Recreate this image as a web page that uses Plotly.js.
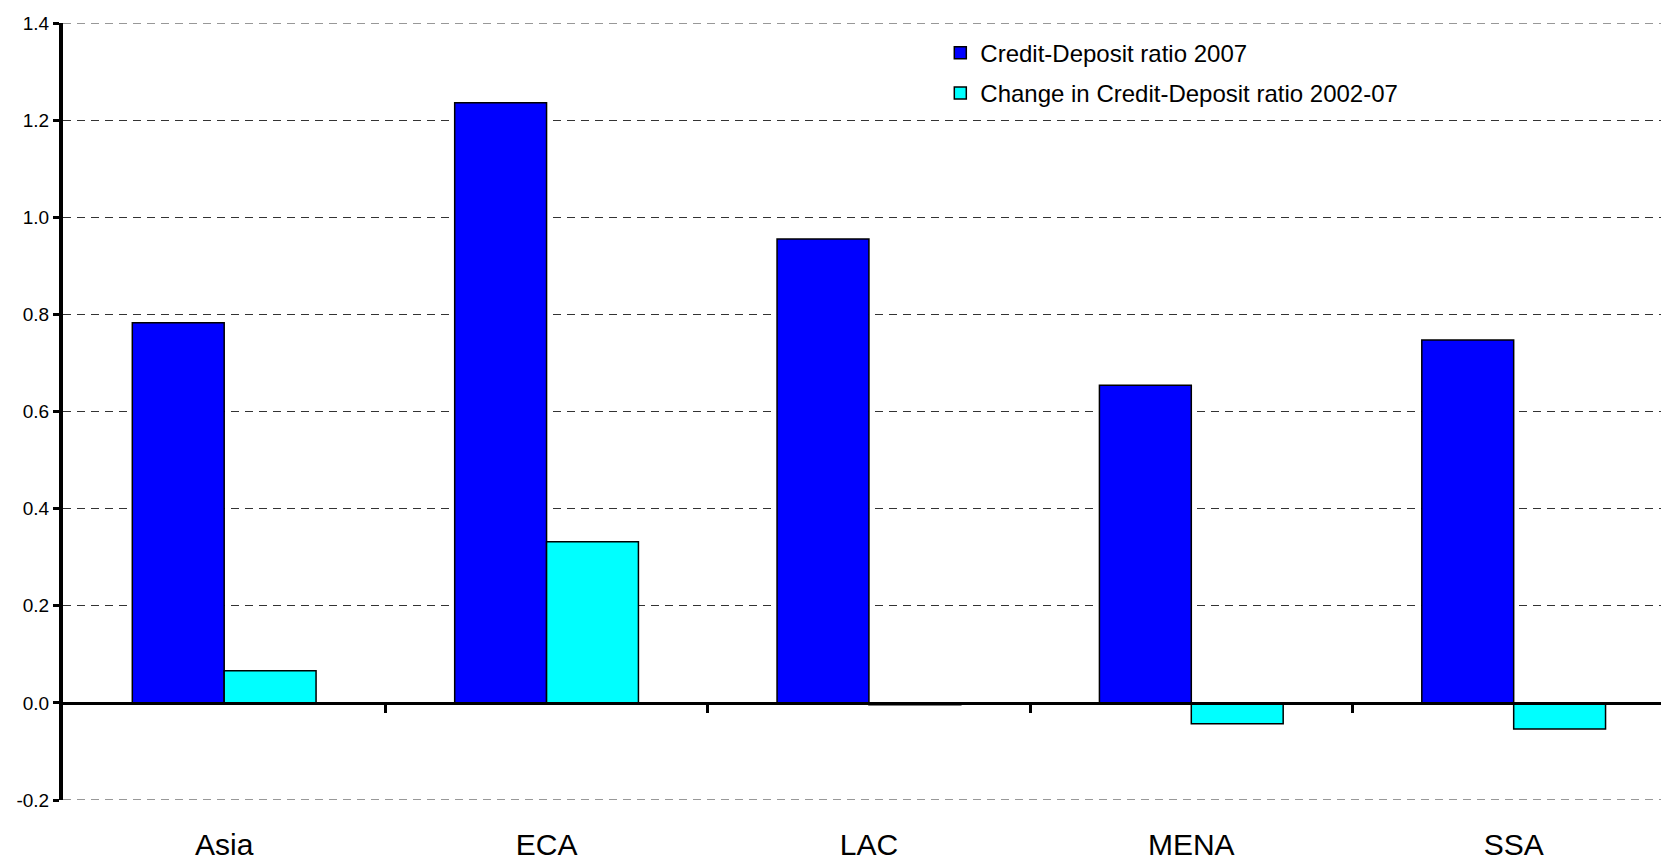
<!DOCTYPE html>
<html>
<head>
<meta charset="utf-8">
<script src="https://cdn.plot.ly/plotly-3.0.1.min.js"></script>
<style>html,body{margin:0;padding:0;background:#fff;}#chart{width:1661px;height:862px;}</style>
</head>
<body>
<div id="chart"></div>
<script>
const categories = ['Asia', 'ECA', 'LAC', 'MENA', 'SSA'];
const ratio2007 = [0.783, 1.236, 0.955, 0.654, 0.747];
const change0207 = [0.066, 0.332, -0.004, -0.043, -0.054];
const yTickVals = [-0.2, 0.0, 0.2, 0.4, 0.6, 0.8, 1.0, 1.2, 1.4];
const yTickText = ['-0.2', '0.0', '0.2', '0.4', '0.6', '0.8', '1.0', '1.2', '1.4'];
const seriesNames = ['Credit-Deposit ratio 2007', 'Change in Credit-Deposit ratio 2002-07'];

const FONT = 'Liberation Sans, Arial, sans-serif';
const boundaries = categories.slice(1).map((c, i) => i + 0.5);
const xRange = [-0.5, 4.457];
const yMin = yTickVals[0], yMax = yTickVals[yTickVals.length - 1];

const traces = [
  {type: 'bar', x: categories, y: ratio2007, name: seriesNames[0], legendgroup: 'a',
   marker: {color: '#0000FF', line: {color: '#000', width: 1.5}}},
  {type: 'bar', x: categories, y: change0207, name: seriesNames[1], legendgroup: 'b',
   marker: {color: '#00FFFF', line: {color: '#000', width: 1.5}}},
  {type: 'scatter', x: [0], y: [0], xaxis: 'x2', mode: 'none', showlegend: false, hoverinfo: 'skip'}
];

// edge grid lines (Plotly hides grid lines at the exact range edges)
const edgeGrid = [yMin, yMax].map(v => ({
  type: 'line', xref: 'paper', yref: 'y', x0: 0, x1: 1, y0: v, y1: v, layer: 'below',
  line: {color: '#333', width: 1.2, dash: '8px,6px'}
}));

const layout = {
  width: 1661, height: 862,
  margin: {l: 63, r: 0, t: 23, b: 62},
  paper_bgcolor: '#fff', plot_bgcolor: '#fff',
  font: {family: FONT, color: '#000'},
  barmode: 'group', bargap: 0.43, bargroupgap: 0,
  showlegend: true,
  legend: {x: 0.549, y: 0.99, xanchor: 'left', yanchor: 'top',
           font: {family: FONT, size: 24, color: '#000'}, bgcolor: 'rgba(0,0,0,0)',
           tracegroupgap: 6, itemwidth: 30},
  shapes: edgeGrid,
  xaxis: {type: 'category', categoryorder: 'array', categoryarray: categories, range: xRange,
          showline: false, showgrid: false, zeroline: false, ticks: '',
          ticklabelstandoff: 24, tickfont: {family: FONT, size: 30, color: '#000'}},
  xaxis2: {overlaying: 'x', anchor: 'free', position: 0.125, range: xRange, type: 'linear',
           showline: true, linecolor: '#000', linewidth: 3.5, showgrid: false, zeroline: false,
           tickmode: 'array', tickvals: boundaries, ticks: 'outside', ticklen: 8, tickwidth: 3,
           tickcolor: '#000', showticklabels: false, side: 'bottom'},
  yaxis: {range: [yMin, yMax], tickmode: 'array', tickvals: yTickVals, ticktext: yTickText,
          showline: true, linecolor: '#000', linewidth: 4, ticks: 'outside', ticklen: 6, tickwidth: 3,
          tickcolor: '#000', showgrid: true, gridcolor: '#333', gridwidth: 1, griddash: '8px,6px',
          zeroline: false, tickfont: {family: FONT, size: 19, color: '#000'}}
};

Plotly.newPlot('chart', traces, layout, {displayModeBar: false, staticPlot: true});
</script>
</body>
</html>
